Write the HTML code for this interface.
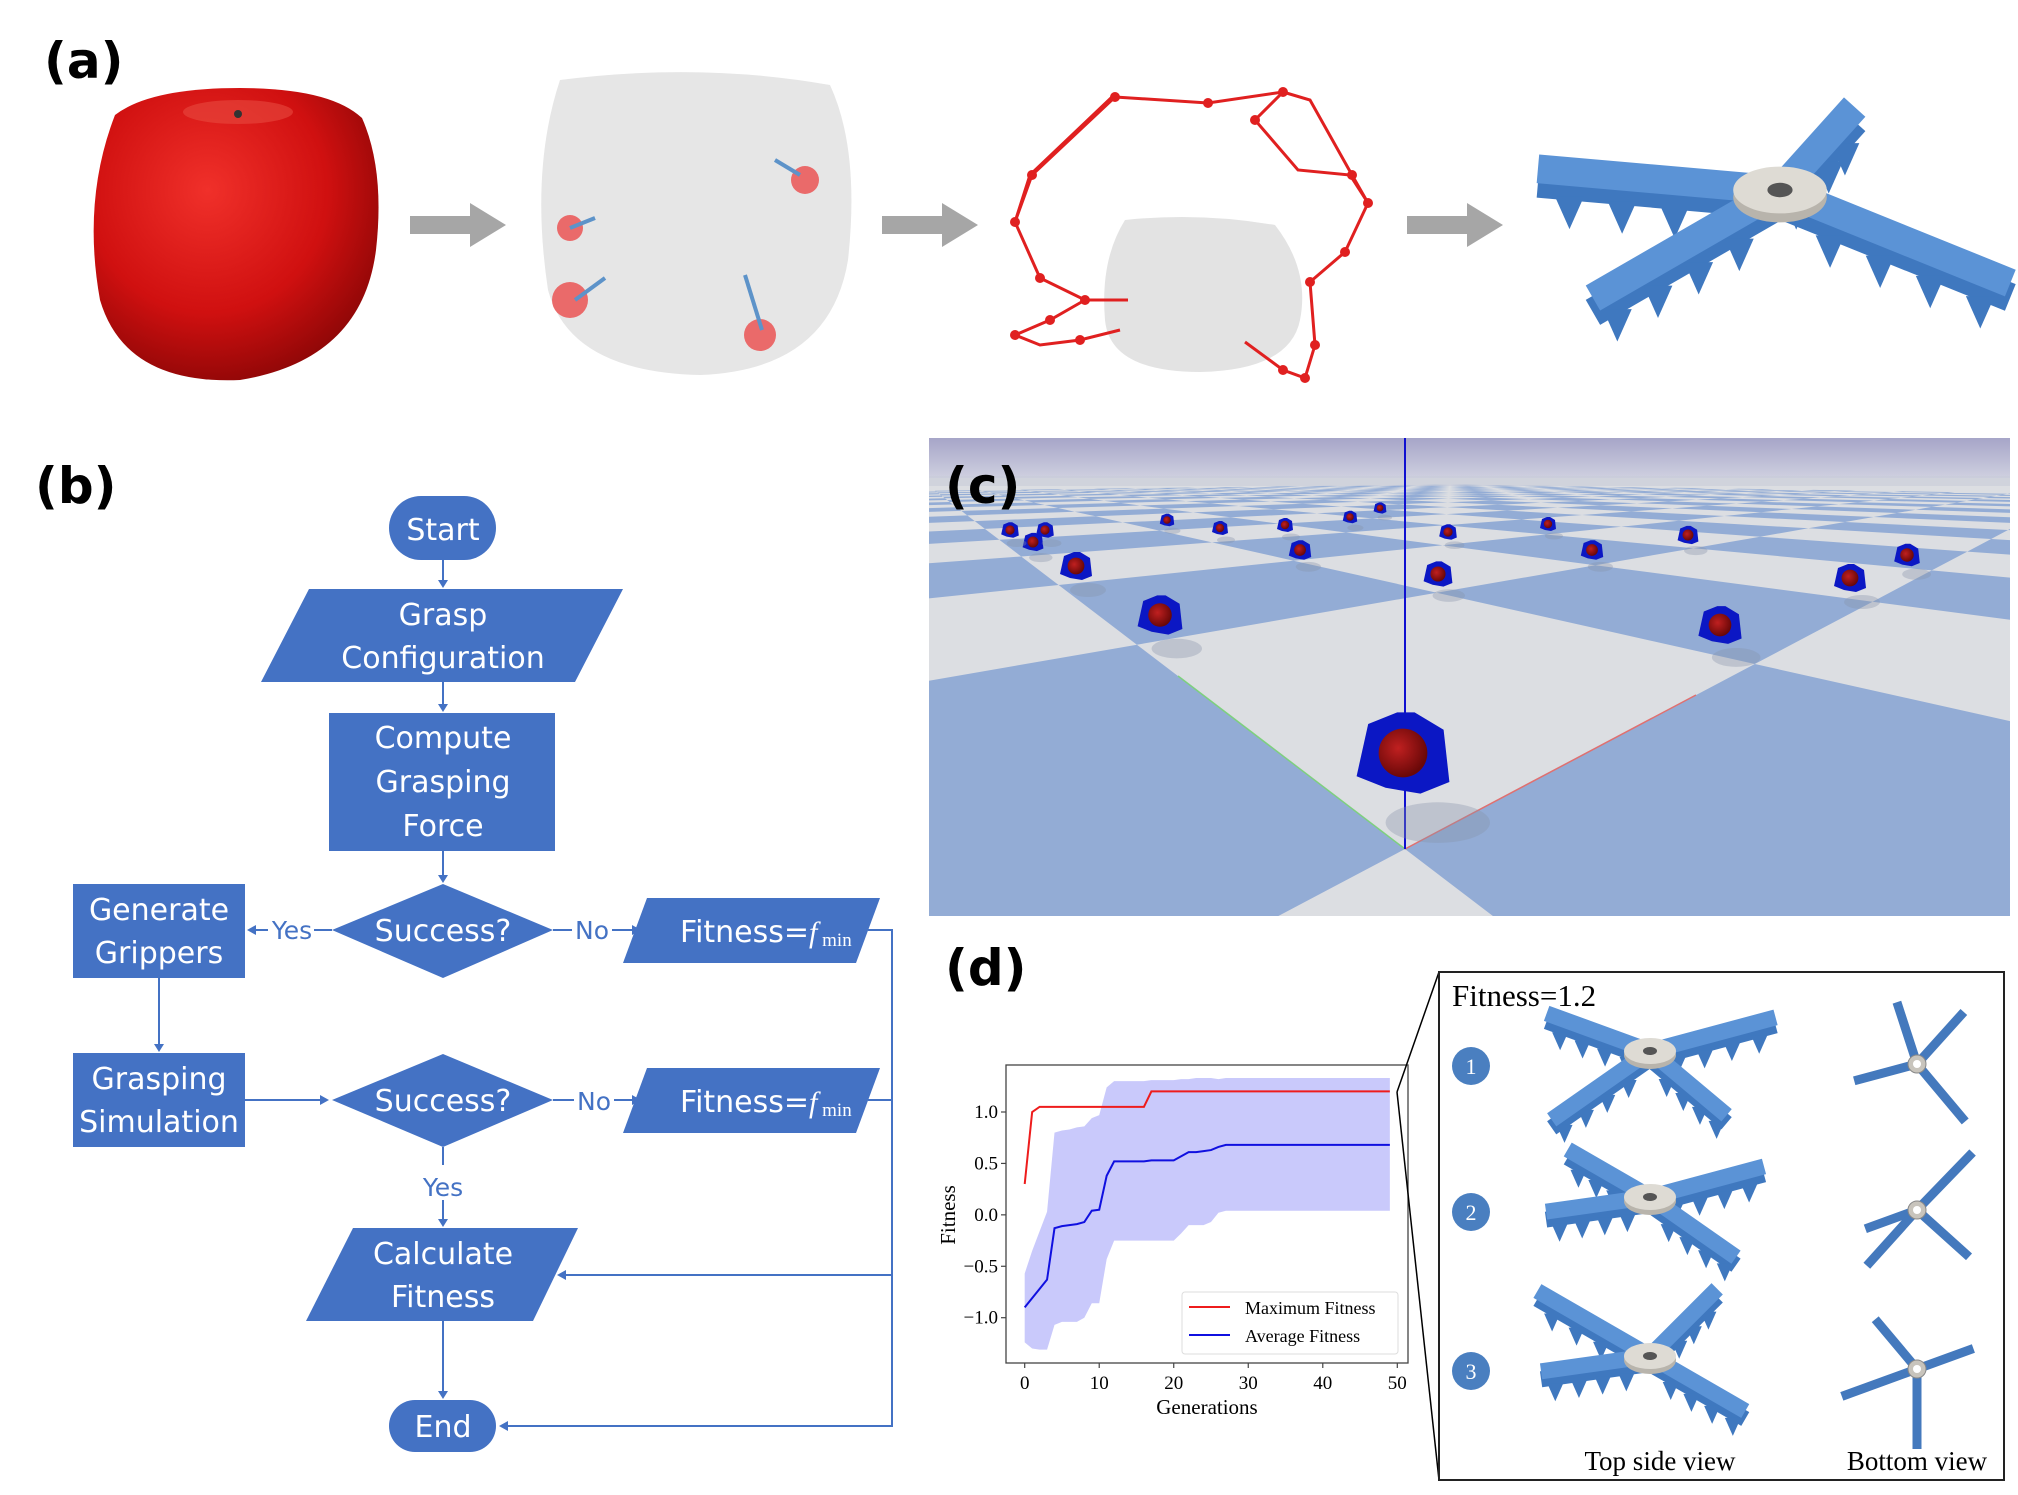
<!DOCTYPE html>
<html><head><meta charset="utf-8"><style>
html,body{margin:0;padding:0;background:#fff;}
#root{position:relative;width:2018px;height:1495px;overflow:hidden;background:#fff;}
svg{position:absolute;left:0;top:0;}
.lbl{font-family:"DejaVu Sans","Liberation Sans",sans-serif;font-weight:bold;font-size:50px;fill:#000;}
.fc{font-family:"DejaVu Sans","Liberation Sans",sans-serif;font-size:30px;fill:#fff;}
.fcs{font-family:"DejaVu Sans","Liberation Sans",sans-serif;font-size:25px;fill:#4472c4;}
.ser{font-family:"Liberation Serif",serif;}
</style></head><body>
<div id="root">
<svg width="2018" height="1495" viewBox="0 0 2018 1495" id="svg">
<defs>
<radialGradient id="appleG" cx="0.4" cy="0.35" r="0.7"><stop offset="0" stop-color="#f0302a"/><stop offset="0.6" stop-color="#d01010"/><stop offset="1" stop-color="#8a0606"/></radialGradient>
<linearGradient id="skyG" x1="0" y1="0" x2="0" y2="1"><stop offset="0" stop-color="#a6a5c8"/><stop offset="1" stop-color="#cfd0e0"/></linearGradient>
<radialGradient id="ballG" cx="0.4" cy="0.4" r="0.6"><stop offset="0" stop-color="#c02020"/><stop offset="1" stop-color="#6a0808"/></radialGradient>
</defs>

<!-- Panel a -->
<text class="lbl" x="44" y="78">(a)</text>
<g>
<path d="M115,115 Q150,88 240,88 Q330,88 362,118 Q385,170 376,250 Q362,360 240,380 Q125,385 100,300 Q82,200 115,115 Z" fill="url(#appleG)"/>
<ellipse cx="238" cy="112" rx="55" ry="12" fill="#e84a40" opacity="0.6"/>
<circle cx="238" cy="114" r="4" fill="#333"/>
</g>
<g><rect x="410" y="216" width="60" height="18" fill="#a6a6a6"/><polygon points="470,203 506,225 470,247" fill="#a6a6a6"/></g>
<g>
<path d="M560,80 Q700,62 830,85 Q860,150 848,260 Q830,370 700,375 Q570,372 548,290 Q530,170 560,80 Z" fill="#e6e6e6"/>
<g fill="#ea6a6a"><circle cx="570" cy="228" r="13"/><circle cx="570" cy="300" r="18"/><circle cx="760" cy="335" r="16"/><circle cx="805" cy="180" r="14"/></g>
<g stroke="#5d93c9" stroke-width="4"><line x1="570" y1="228" x2="595" y2="218"/><line x1="575" y1="300" x2="605" y2="278"/><line x1="762" y1="330" x2="745" y2="275"/><line x1="800" y1="175" x2="775" y2="160"/></g>
</g>
<g><rect x="882" y="216" width="60" height="18" fill="#a6a6a6"/><polygon points="942,203 978,225 942,247" fill="#a6a6a6"/></g>
<g>
<path d="M1125,220 Q1200,212 1275,225 Q1310,270 1300,320 Q1290,370 1200,372 Q1110,372 1105,320 Q1100,260 1125,220 Z" fill="#e3e3e3"/>
<polyline points="1115,97 1032,175 1015,222 1040,278 1085,300 1128,300" fill="none" stroke="#e02020" stroke-width="3"/>
<polyline points="1115,97 1208,103 1283,92 1255,120 1298,170 1350,175 1368,203 1345,252 1310,282 1315,345 1305,378 1283,370 1245,342" fill="none" stroke="#e02020" stroke-width="3"/>
<polyline points="1283,92 1310,100 1352,175 1368,203" fill="none" stroke="#e02020" stroke-width="3"/>
<polyline points="1015,222 1030,175 1112,97" fill="none" stroke="#e02020" stroke-width="3"/>
<polyline points="1085,300 1050,320 1015,335 1040,345 1080,340 1120,330" fill="none" stroke="#e02020" stroke-width="3"/>
<g fill="#e02020"><circle cx="1115" cy="97" r="5"/><circle cx="1208" cy="103" r="5"/><circle cx="1283" cy="92" r="5"/><circle cx="1255" cy="120" r="5"/><circle cx="1352" cy="175" r="5"/><circle cx="1368" cy="203" r="5"/><circle cx="1345" cy="252" r="5"/><circle cx="1310" cy="282" r="5"/><circle cx="1315" cy="345" r="5"/><circle cx="1305" cy="378" r="5"/><circle cx="1283" cy="370" r="5"/><circle cx="1032" cy="175" r="5"/><circle cx="1015" cy="222" r="5"/><circle cx="1040" cy="278" r="5"/><circle cx="1085" cy="300" r="5"/><circle cx="1050" cy="320" r="5"/><circle cx="1015" cy="335" r="5"/><circle cx="1080" cy="340" r="5"/></g>
</g>
<g><rect x="1407" y="216" width="60" height="18" fill="#a6a6a6"/><polygon points="1467,203 1503,225 1467,247" fill="#a6a6a6"/></g>
<g id="gripA"></g>

<!-- Panel b flowchart -->
<text class="lbl" x="35" y="503">(b)</text>
<g stroke="#4472c4" stroke-width="2" fill="none">
<line x1="443" y1="560" x2="443" y2="586"/>
<line x1="443" y1="682" x2="443" y2="710"/>
<line x1="443" y1="851" x2="443" y2="881"/>
<line x1="332" y1="930" x2="250" y2="930"/>
<line x1="553" y1="930" x2="638" y2="930"/>
<line x1="159" y1="978" x2="159" y2="1050"/>
<line x1="245" y1="1100" x2="326" y2="1100"/>
<line x1="553" y1="1100" x2="638" y2="1100"/>
<line x1="443" y1="1147" x2="443" y2="1165"/>
<line x1="443" y1="1200" x2="443" y2="1225"/>
<line x1="443" y1="1321" x2="443" y2="1397"/>
<polyline points="868,930 892,930 892,1426 502,1426"/>
<line x1="868" y1="1100" x2="892" y2="1100"/>
<line x1="892" y1="1275" x2="560" y2="1275"/>
</g>
<g fill="#4472c4">
<polygon points="438,580 448,580 443,588"/><polygon points="438,704 448,704 443,712"/><polygon points="438,875 448,875 443,883"/>
<polygon points="256,925 256,935 247,930"/><polygon points="632,925 632,935 641,930"/><polygon points="154,1044 164,1044 159,1052"/>
<polygon points="320,1095 320,1105 329,1100"/><polygon points="632,1095 632,1105 641,1100"/><polygon points="438,1219 448,1219 443,1227"/>
<polygon points="438,1391 448,1391 443,1399"/><polygon points="508,1421 508,1431 499,1426"/><polygon points="566,1270 566,1280 557,1275"/>
</g>
<g><rect x="389" y="496" width="107" height="64" rx="32" fill="#4472c4"/><text class="fc" x="443" y="540" text-anchor="middle" font-size="38">Start</text></g>
<g><polygon points="309,589 623,589 575,682 261,682" fill="#4472c4"/><text class="fc" x="443" y="625" text-anchor="middle">Grasp</text><text class="fc" x="443" y="668" text-anchor="middle">Configuration</text></g>
<g><rect x="329" y="713" width="226" height="138" fill="#4472c4"/><text class="fc" x="443" y="748" text-anchor="middle">Compute</text><text class="fc" x="443" y="792" text-anchor="middle">Grasping</text><text class="fc" x="443" y="836" text-anchor="middle">Force</text></g>
<g><polygon points="332,930 443,884 553,930 443,978" fill="#4472c4"/><text class="fc" x="443" y="941" text-anchor="middle">Success?</text></g>
<g><rect x="73" y="884" width="172" height="94" fill="#4472c4"/><text class="fc" x="159" y="920" text-anchor="middle">Generate</text><text class="fc" x="159" y="963" text-anchor="middle">Grippers</text></g>
<g><polygon points="647,898 880,898 856,963 623,963" fill="#4472c4"/><text class="fc" x="680" y="942">Fitness=<tspan class="ser" font-style="italic">f</tspan><tspan class="ser" font-size="19" dy="4"> min</tspan></text></g>
<g><rect x="73" y="1053" width="172" height="94" fill="#4472c4"/><text class="fc" x="159" y="1089" text-anchor="middle">Grasping</text><text class="fc" x="159" y="1132" text-anchor="middle">Simulation</text></g>
<g><polygon points="332,1100 443,1054 553,1100 443,1147" fill="#4472c4"/><text class="fc" x="443" y="1111" text-anchor="middle">Success?</text></g>
<g><polygon points="647,1068 880,1068 856,1133 623,1133" fill="#4472c4"/><text class="fc" x="680" y="1112">Fitness=<tspan class="ser" font-style="italic">f</tspan><tspan class="ser" font-size="19" dy="4"> min</tspan></text></g>
<g><polygon points="353,1228 578,1228 533,1321 306,1321" fill="#4472c4"/><text class="fc" x="443" y="1264" text-anchor="middle">Calculate</text><text class="fc" x="443" y="1307" text-anchor="middle">Fitness</text></g>
<g><rect x="389" y="1400" width="107" height="52" rx="26" fill="#4472c4"/><text class="fc" x="443" y="1437" text-anchor="middle">End</text></g>
<g>
<rect x="268" y="915" width="46" height="28" fill="#fff"/><text class="fcs" x="292" y="939" text-anchor="middle">Yes</text>
<rect x="572" y="915" width="40" height="28" fill="#fff"/><text class="fcs" x="592" y="939" text-anchor="middle">No</text>
<rect x="574" y="1086" width="40" height="28" fill="#fff"/><text class="fcs" x="594" y="1110" text-anchor="middle">No</text>
<text class="fcs" x="443" y="1196" text-anchor="middle">Yes</text>
</g>

<!-- Panel c -->
<g>
<clipPath id="cClip"><rect x="929" y="438" width="1081" height="478"/></clipPath>
<g clip-path="url(#cClip)">
<rect x="929" y="438" width="1081" height="478" fill="#dcdee2"/>
<g id="checker"></g>
<rect x="929" y="438" width="1081" height="40" fill="url(#skyG)"/>
<rect x="929" y="476" width="1081" height="10" fill="#c8cbd8" opacity="0.6"/>
<line x1="1405" y1="849" x2="1178" y2="676" stroke="#7ed07e" stroke-width="1.5"/>
<line x1="1405" y1="849" x2="1696" y2="695" stroke="#e07070" stroke-width="1.5"/>
<line x1="1405" y1="438" x2="1405" y2="849" stroke="#1010d0" stroke-width="2"/>
<g id="robots"></g>
</g>
</g>
<text class="lbl" x="945" y="503">(c)</text>

<!-- Panel d -->
<text class="lbl" x="945" y="985">(d)</text>
<g id="chart"></g>
<line x1="1397" y1="1092" x2="1439" y2="972" stroke="#000" stroke-width="1.5"/>
<line x1="1397" y1="1092" x2="1439" y2="1480" stroke="#000" stroke-width="1.5"/>
<rect x="1439" y="972" width="565" height="508" fill="#fff" stroke="#222" stroke-width="2"/>
<text class="ser" x="1452" y="1006" font-size="31">Fitness=1.2</text>
<g id="inset"></g>
<text class="ser" x="1660" y="1470" font-size="27" text-anchor="middle">Top side view</text>
<text class="ser" x="1917" y="1470" font-size="27" text-anchor="middle">Bottom view</text>
</svg>
</div>
<script>
// Chart data
const generations = [0,1,2,3,4,5,6,7,8,9,10,11,12,13,14,15,16,17,18,19,20,21,22,23,24,25,26,27,28,29,30,31,32,33,34,35,36,37,38,39,40,41,42,43,44,45,46,47,48,49];
const maxFitness = [0.30,1.00,1.05,1.05,1.05,1.05,1.05,1.05,1.05,1.05,1.05,1.05,1.05,1.05,1.05,1.05,1.05,1.20,1.20,1.20,1.20,1.20,1.20,1.20,1.20,1.20,1.20,1.20,1.20,1.20,1.20,1.20,1.20,1.20,1.20,1.20,1.20,1.20,1.20,1.20,1.20,1.20,1.20,1.20,1.20,1.20,1.20,1.20,1.20,1.20];
const avgFitness = [-0.90,-0.81,-0.72,-0.63,-0.13,-0.11,-0.10,-0.09,-0.07,0.04,0.05,0.38,0.52,0.52,0.52,0.52,0.52,0.53,0.53,0.53,0.53,0.57,0.61,0.61,0.62,0.63,0.66,0.68,0.68,0.68,0.68,0.68,0.68,0.68,0.68,0.68,0.68,0.68,0.68,0.68,0.68,0.68,0.68,0.68,0.68,0.68,0.68,0.68,0.68,0.68];
const upperBand = [-0.57,-0.35,-0.16,0.03,0.80,0.82,0.83,0.85,0.86,0.94,0.97,1.24,1.30,1.30,1.30,1.30,1.30,1.31,1.31,1.31,1.31,1.32,1.32,1.33,1.33,1.33,1.32,1.33,1.33,1.33,1.33,1.33,1.33,1.33,1.33,1.33,1.33,1.33,1.33,1.33,1.33,1.33,1.33,1.33,1.33,1.33,1.33,1.33,1.33,1.33];
const lowerBand = [-1.24,-1.30,-1.31,-1.31,-1.07,-1.04,-1.04,-1.04,-1.00,-0.86,-0.86,-0.43,-0.25,-0.25,-0.25,-0.25,-0.25,-0.25,-0.25,-0.25,-0.25,-0.18,-0.10,-0.10,-0.10,-0.07,0.02,0.04,0.04,0.04,0.04,0.04,0.04,0.04,0.04,0.04,0.04,0.04,0.04,0.04,0.04,0.04,0.04,0.04,0.04,0.04,0.04,0.04,0.04,0.04];
const xTicks = [0,10,20,30,40,50];
const yTicks = [-1.0,-0.5,0.0,0.5,1.0];
const yTickLabels = ["\u22121.0","\u22120.5","0.0","0.5","1.0"];

const NS = "http://www.w3.org/2000/svg";
function mk(tag, attrs, parent){const e=document.createElementNS(NS,tag);for(const k in attrs)e.setAttribute(k,attrs[k]);if(parent)parent.appendChild(e);return e;}

(function(){
const chart=document.getElementById('chart');
const X0=1006,X1=1408,Y0=1065,Y1=1363;
const xs=v=>1024.7+(v-0)*(1397.3-1024.7)/50;
const ys=v=>1112+(1.0-v)*(1317.7-1112)/2.0;
let d='';
generations.forEach((g,i)=>{d+=(i?'L':'M')+xs(g)+','+ys(upperBand[i]);});
for(let i=generations.length-1;i>=0;i--)d+='L'+xs(generations[i])+','+ys(lowerBand[i]);
const band=mk('path',{d:d+'Z',fill:'#c9c9fb'},chart);


const maxLine=mk('polyline',{points:generations.map((g,i)=>xs(g)+','+ys(maxFitness[i])).join(' '),fill:'none',stroke:'#ee1c1c','stroke-width':2},chart);


const avgLine=mk('polyline',{points:generations.map((g,i)=>xs(g)+','+ys(avgFitness[i])).join(' '),fill:'none',stroke:'#1010e0','stroke-width':2},chart);


const frame=mk('rect',{x:X0,y:Y0,width:X1-X0,height:Y1-Y0,fill:'none',stroke:'#444','stroke-width':1.3},chart);


xTicks.forEach(t=>{
 mk('line',{x1:xs(t),x2:xs(t),y1:Y1,y2:Y1+5,stroke:'#444','stroke-width':1.2},chart);
 const tx=mk('text',{x:xs(t),y:Y1+26,'text-anchor':'middle','font-size':19,class:'ser'},chart);
 tx.textContent=t;
 
 
});
yTicks.forEach((t,i)=>{
 mk('line',{x1:X0-5,x2:X0,y1:ys(t),y2:ys(t),stroke:'#444','stroke-width':1.2},chart);
 const tx=mk('text',{x:X0-8,y:ys(t)+6,'text-anchor':'end','font-size':19,class:'ser'},chart);
 tx.textContent=yTickLabels[i];
 
 
});
const xl=mk('text',{x:1207,y:1414,'text-anchor':'middle','font-size':21,class:'ser'},chart);xl.textContent='Generations';


const yl=mk('text',{x:0,y:0,'text-anchor':'middle','font-size':21,class:'ser',transform:'translate(955,1215) rotate(-90)'},chart);yl.textContent='Fitness';


const lg=mk('g',{},chart);


mk('rect',{x:1182,y:1292,width:216,height:62,rx:3,fill:'#fff',stroke:'#ddd'},lg);
mk('line',{x1:1189,x2:1230,y1:1307,y2:1307,stroke:'#ee1c1c','stroke-width':2},lg);
mk('line',{x1:1189,x2:1230,y1:1335,y2:1335,stroke:'#1010e0','stroke-width':2},lg);
const l1=mk('text',{x:1245,y:1314,'font-size':18,class:'ser'},lg);l1.textContent='Maximum Fitness';


const l2=mk('text',{x:1245,y:1342,'font-size':18,class:'ser'},lg);l2.textContent='Average Fitness';


})();

// checker floor
(function(){
const g=document.getElementById('checker');
const F=373,HY=476,CX=1405;
const a=[-1.135*1.4,0.865*1.4],b=[1.329*1.4,0.703*1.4];
function clip(poly){const out=[];const zc=0.5;for(let i=0;i<poly.length;i++){const p=poly[i],q=poly[(i+1)%poly.length];const pin=p[1]>=zc,qin=q[1]>=zc;if(pin)out.push(p);if(pin!==qin){const t=(zc-p[1])/(q[1]-p[1]);out.push([p[0]+t*(q[0]-p[0]),zc]);}}return out;}
for(let i=-12;i<20;i++)for(let j=-12;j<20;j++){
 if(((i+j)%2+2)%2===0)continue;
 const c=(u,v)=>[u*a[0]+v*b[0],1+u*a[1]+v*b[1]];
 let poly=clip([c(i,j),c(i+1,j),c(i+1,j+1),c(i,j+1)]);
 if(poly.length<3)continue;
 const pts=poly.map(p=>(CX+F*p[0]/p[1]).toFixed(1)+','+(HY+F/p[1]).toFixed(1)).join(' ');
 mk('polygon',{points:pts,fill:'#93acd5'},g);
}
const rb=document.getElementById('robots');
const robots=[[1403,753,58],[1160,615,28],[1720,625,27],[1076,566,20],[1850,578,20],[1033,542,13],[1045,530,11],[1300,550,14],[1438,574,18],[1592,550,14],[1688,535,13],[1907,555,16],[1220,528,10],[1285,525,10],[1350,517,9],[1448,532,11],[1548,524,10],[1010,530,11],[1167,520,9],[1380,508,8]];
robots.forEach(r=>{
 const[x,y,s]=r;
 mk('ellipse',{cx:x+s*0.6,cy:y+s*1.2,rx:s*0.9,ry:s*0.35,fill:'#8892a8',opacity:0.35},rb);
 mk('path',{d:`M${x-s*0.8},${y+s*0.4} L${x-s*0.6},${y-s*0.5} L${x-s*0.1},${y-s*0.7} L${x+s*0.2},${y-s*0.7} L${x+s*0.7},${y-s*0.4} L${x+s*0.8},${y+s*0.5} L${x+s*0.3},${y+s*0.7} L${x-s*0.3},${y+s*0.6} Z`,fill:'#0b17c4'},rb);
 mk('circle',{cx:x,cy:y,r:s*0.42,fill:'url(#ballG)'},rb);
});
})();

// grippers
function topGripper(parent,cx,cy,arms,sc){
 arms.forEach(([ang,len])=>{
  const r=ang*Math.PI/180,ex=cx+Math.cos(r)*len*sc,ey=cy+Math.sin(r)*len*sc;
  mk('line',{x1:cx,y1:cy+8*sc,x2:ex,y2:ey+8*sc,stroke:'#3f78bf','stroke-width':16*sc},parent);
  for(let k=1;k<=4;k++){const t=k/4.6,px=cx+(ex-cx)*t,py=cy+(ey-cy)*t;mk('polygon',{points:`${px-8*sc},${py+14*sc} ${px+8*sc},${py+14*sc} ${px},${py+32*sc}`,fill:'#3f78bf'},parent);}
  mk('line',{x1:cx,y1:cy,x2:ex,y2:ey,stroke:'#5b93d6','stroke-width':16*sc},parent);
 });
 mk('ellipse',{cx:cx,cy:cy+4*sc,rx:26*sc,ry:14*sc,fill:'#b8b4ac'},parent);
 mk('ellipse',{cx:cx,cy:cy,rx:26*sc,ry:13*sc,fill:'#dedbd4'},parent);
 mk('ellipse',{cx:cx,cy:cy,rx:7*sc,ry:4*sc,fill:'#555'},parent);
}
function bottomGripper(parent,cx,cy,arms){
 arms.forEach(([ang,len])=>{const r=ang*Math.PI/180;mk('line',{x1:cx,y1:cy,x2:cx+Math.cos(r)*len,y2:cy+Math.sin(r)*len,stroke:'#4479bd','stroke-width':9},parent);});
 mk('circle',{cx:cx,cy:cy,r:9,fill:'#c8c4bc',stroke:'#888','stroke-width':1},parent);
 mk('circle',{cx:cx,cy:cy,r:4,fill:'#fff'},parent);
}
(function(){
const ga=document.getElementById('gripA');
topGripper(ga,1780,190,[[-175,135],[-48,62],[150,120],[22,138]],1.8);
const ins=document.getElementById('inset');
const rows=[[1066,[[-160,110],[-15,130],[145,120],[40,100]],[[-108,65],[-48,70],[165,65],[50,75]]],[1212,[[-150,95],[-15,118],[172,105],[35,105]],[[-46,80],[160,55],[132,75],[42,70]]],[1371,[[-150,130],[-45,95],[172,110],[30,110]],[[-130,65],[-20,60],[160,80],[90,80]]]];
rows.forEach((r,i)=>{
 const c=mk('g',{},ins);
 
 
 mk('circle',{cx:1471,cy:r[0],r:19,fill:'#4a7fc0'},c);
 const t=mk('text',{x:1471,y:r[0]+8,'text-anchor':'middle','font-size':22,fill:'#fff',class:'ser'},c);t.textContent=String(i+1);
 const tg=mk('g',{},ins);
 
 
 topGripper(tg,1650,r[0]-15,r[1],1);
 const bg=mk('g',{},ins);
 
 
 bottomGripper(bg,1917,r[0]-2,r[2]);
});
})();
</script>
</body></html>
